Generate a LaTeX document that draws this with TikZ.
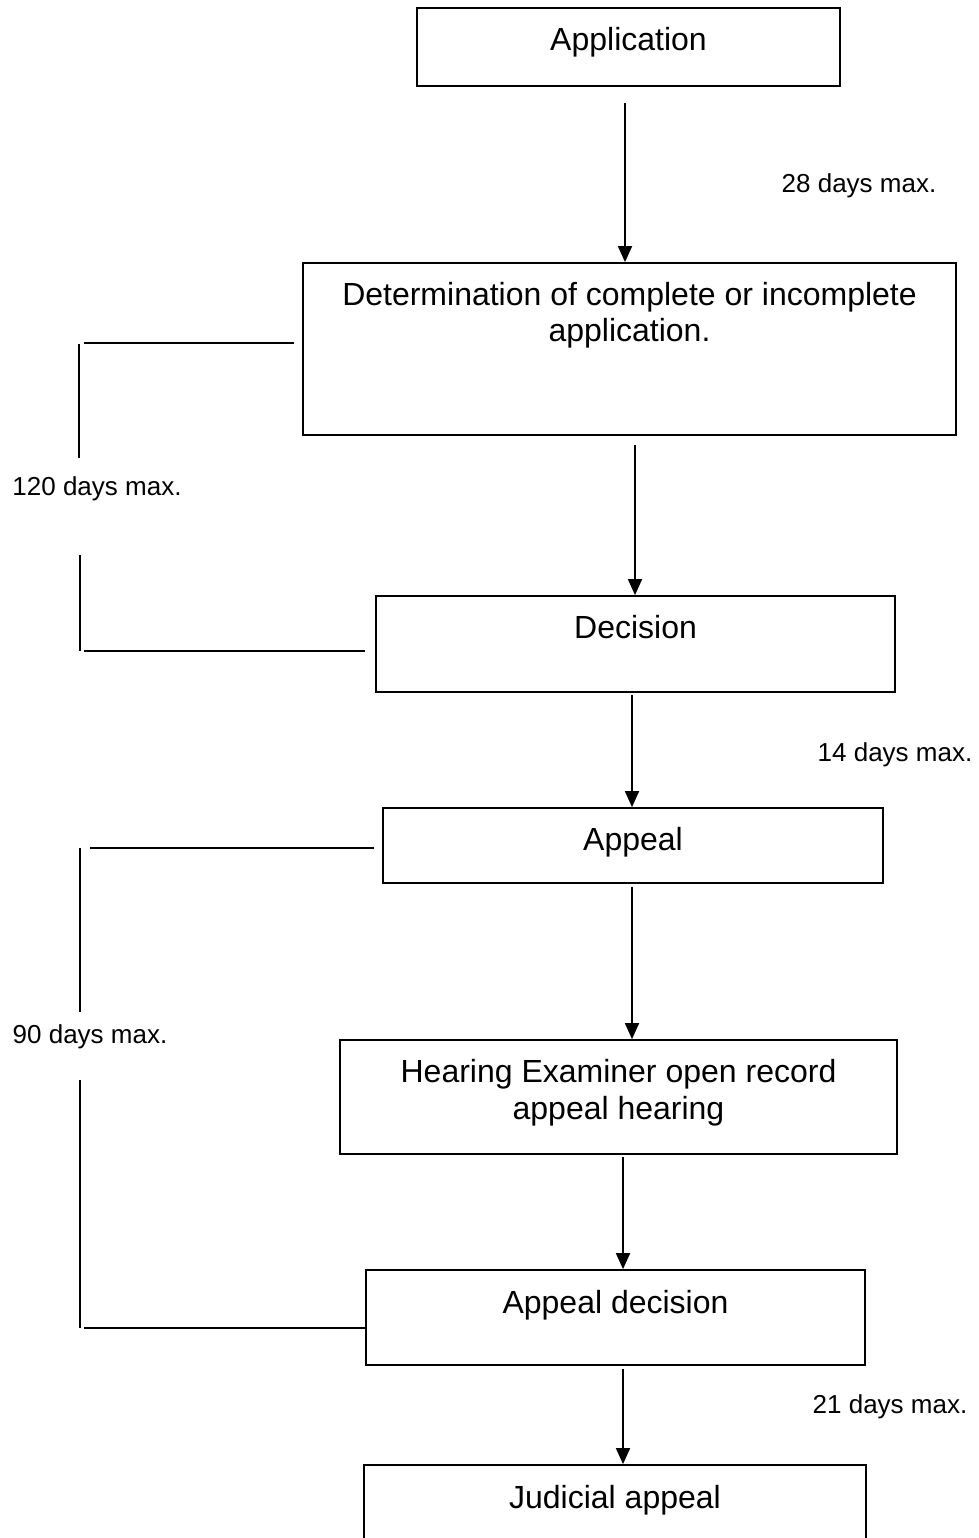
\documentclass[tikz,border=0pt]{standalone}
\usepackage{fontspec}
\setmainfont{Liberation Sans}
\usetikzlibrary{arrows.meta}
\tikzset{
  stage/.style={draw, line width=1.8pt, inner sep=0pt},
  stagetext/.style={font=\fontsize{32}{36}\selectfont, align=center, anchor=north, inner sep=0pt},
  days/.style={font=\fontsize{26}{30}\selectfont, inner sep=0pt},
  flow/.style={line width=1.8pt, -{Triangle[length=16pt,width=14pt]}},
  spanline/.style={line width=1.8pt}
}
\begin{document}
\begin{tikzpicture}[x=1pt, y=-1pt]
  \useasboundingbox (0,0) rectangle (978,1538);
  % boxes
  \draw
    (628.5,47) node[stage, minimum width=423pt, minimum height=78pt] (app){}
    (629.5,349) node[stage, minimum width=653pt, minimum height=172pt] (det){}
    (635.5,644) node[stage, minimum width=519pt, minimum height=96pt] (dec){}
    (633,845.5) node[stage, minimum width=500pt, minimum height=75pt] (apl){}
    (618.5,1097) node[stage, minimum width=557pt, minimum height=114pt] (hear){}
    (615.5,1317.5) node[stage, minimum width=499pt, minimum height=95pt] (apdec){}
    (615,1515) node[stage, minimum width=502pt, minimum height=100pt] (jud){};
  % box texts
  \node[stagetext] (tapp) at ([yshift=-20.5pt]app.north) {Application};
  \node[stagetext] (tdet) at ([yshift=-20.5pt]det.north) {Determination of complete or incomplete\\application.};
  \node[stagetext] (tdec) at ([yshift=-20.5pt]dec.north) {Decision};
  \node[stagetext] (tapl) at ([yshift=-20.5pt]apl.north) {Appeal};
  \node[stagetext] (thear) at ([yshift=-20.5pt]hear.north) {Hearing Examiner open record\\appeal hearing};
  \node[stagetext] (tapdec) at ([yshift=-20.5pt]apdec.north) {Appeal decision};
  \node[stagetext] (tjud) at ([yshift=-20.5pt]jud.north) {Judicial appeal};
  % time limits
  \draw
    (859,186) node[days] (d28){28 days max.}
    (97,489) node[days] (d120){120 days max.}
    (895,755) node[days] (d14){14 days max.}
    (90,1037) node[days] (d90){90 days max.}
    (890,1407) node[days] (d21){21 days max.};
  % flow
  \begin{scope}[flow]
    \draw[shorten <=16pt] ([xshift=-3.5pt]app.south) to ([xshift=-4.5pt]det.north);
    \draw[shorten <=9pt] ([xshift=5.5pt]det.south) to ([xshift=-0.5pt]dec.north);
    \draw[shorten <=2pt] ([xshift=-3.5pt]dec.south) to ([xshift=-1pt]apl.north);
    \draw[shorten <=3pt] ([xshift=-1pt]apl.south) to ([xshift=13.5pt]hear.north);
    \draw[shorten <=2pt] ([xshift=4.5pt]hear.south) to ([xshift=7.5pt]apdec.north);
    \draw[shorten <=3pt] ([xshift=7.5pt]apdec.south) to ([xshift=8pt]jud.north);
  \end{scope}
  % brackets
  \begin{scope}[spanline]
    \draw ([xshift=-8pt,yshift=6pt]det.west) -- (84,343);
    \draw (79,344) -- (79,458);
    \draw (80,555) -- (80,651);
    \draw (84,651) -- ([xshift=-10pt,yshift=-7pt]dec.west);
    \draw ([xshift=-8pt,yshift=-2.5pt]apl.west) -- (90,848);
    \draw (80,848) -- (80,1012);
    \draw (80,1080) -- (80,1328);
    \draw (84,1328) -- ([yshift=-10.5pt]apdec.west);
  \end{scope}
\end{tikzpicture}
\end{document}
